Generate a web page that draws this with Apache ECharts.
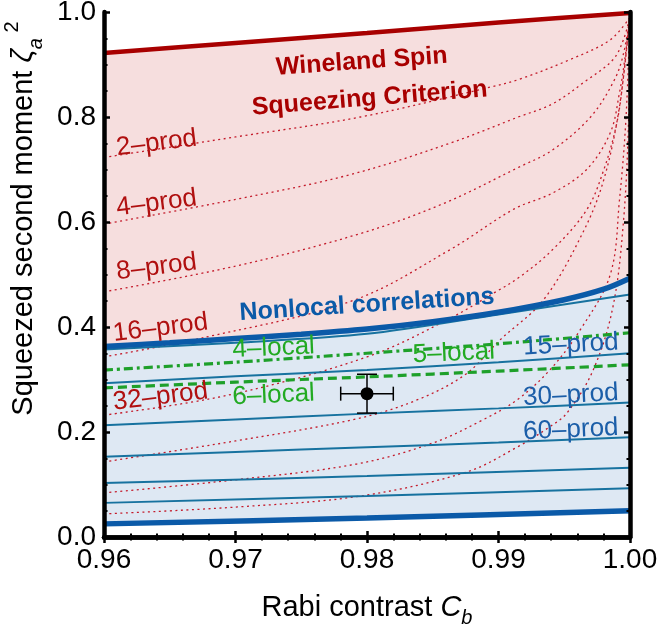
<!DOCTYPE html>
<html>
<head>
<meta charset="utf-8">
<script src="https://cdn.jsdelivr.net/npm/echarts@6/dist/echarts.min.js"></script>
<style>
  html, body { margin: 0; padding: 0; background: #fff; }
  #chart { width: 659px; height: 629px; }
</style>
</head>
<body>
<div id="chart"></div>
<script>
// points are [C_b, zeta_a^2]
var wineland = [[0.96, 0.922], [0.97, 0.941], [0.98, 0.960], [0.99, 0.980], [1.0, 0.998]];
var nonlocal = [[0.96, 0.363], [0.965, 0.370], [0.97, 0.378], [0.975, 0.386], [0.98, 0.396],
                [0.985, 0.410], [0.99, 0.428], [0.995, 0.452], [0.998, 0.472], [1.0, 0.493]];
var floorLine = [[0.96, 0.025], [0.98, 0.036], [1.0, 0.050]];

// solid bounds (large k)
var blueTop = [[0.96, 0.357], [0.97, 0.370], [0.98, 0.387], [0.99, 0.424], [1.0, 0.462]];
var blue15 = [[0.96, 0.293], [0.97, 0.306], [0.98, 0.318], [0.99, 0.333], [1.0, 0.350]];
var blue30 = [[0.96, 0.213], [0.97, 0.224], [0.98, 0.235], [0.99, 0.245], [1.0, 0.256]];
var blue60 = [[0.96, 0.153], [0.97, 0.162], [0.98, 0.171], [0.99, 0.180], [1.0, 0.190]];
var blue120 = [[0.96, 0.103], [0.98, 0.116], [1.0, 0.132]];
var blue240 = [[0.96, 0.065], [0.98, 0.078], [1.0, 0.093]];

// dotted k-producible bounds
var red2 = [[0.96, 0.723], [0.97, 0.762], [0.9795, 0.800], [0.9894, 0.857], [0.9916, 0.872],
            [0.9954, 0.909], [0.9985, 0.947], [1.0, 0.990]];
var red4 = [[0.96, 0.596], [0.97, 0.643], [0.9787, 0.690], [0.9863, 0.750], [0.9915, 0.800],
            [0.9941, 0.825], [0.9966, 0.868], [0.9987, 0.909], [0.9995, 0.947], [1.0, 0.992]];
var red8 = [[0.96, 0.467], [0.97, 0.516], [0.9795, 0.578], [0.9858, 0.635], [0.9916, 0.705],
            [0.9941, 0.737], [0.9970, 0.800], [0.9988, 0.870], [0.9995, 0.920], [1.0, 0.993]];
var red16 = [[0.96, 0.343], [0.9678, 0.381], [0.979, 0.451], [0.9863, 0.547], [0.9912, 0.625],
             [0.9941, 0.655], [0.9967, 0.700], [0.9985, 0.770], [0.9992, 0.846], [0.9996, 0.909], [1.0, 0.994]];
var red32 = [[0.96, 0.232], [0.9694, 0.270], [0.98, 0.343], [0.9862, 0.415], [0.990, 0.470],
             [0.9916, 0.495], [0.9941, 0.547], [0.9967, 0.623], [0.9980, 0.699], [0.9990, 0.789],
             [0.9995, 0.876], [1.0, 0.995]];
var red64 = [[0.96, 0.143], [0.97, 0.183], [0.9792, 0.225], [0.9838, 0.261], [0.9875, 0.310],
             [0.9901, 0.375], [0.9934, 0.451], [0.9964, 0.579], [0.9980, 0.680], [0.9992, 0.820], [1.0, 0.996]];
var red128 = [[0.96, 0.084], [0.97, 0.109], [0.9792, 0.139], [0.985, 0.179], [0.9888, 0.223],
              [0.9914, 0.261], [0.9939, 0.318], [0.9962, 0.394], [0.9985, 0.500], [0.9992, 0.642],
              [0.9997, 0.800], [1.0, 0.997]];
var red256 = [[0.96, 0.044], [0.97, 0.057], [0.9795, 0.078], [0.9876, 0.124], [0.9914, 0.171],
              [0.9939, 0.210], [0.9952, 0.236], [0.9972, 0.318], [0.9987, 0.438], [0.9995, 0.600],
              [0.9999, 0.800], [1.0, 0.998]];

var local4 = [[0.96, 0.318], [0.97, 0.333], [0.98, 0.350], [0.99, 0.368], [1.0, 0.389]];
var local6 = [[0.96, 0.284], [0.97, 0.295], [0.98, 0.305], [0.99, 0.316], [1.0, 0.328]];

// measured point: C_b, zeta^2, dC, dzeta
var measured = [[0.98, 0.273, 0.002, 0.037]];

var xTicks = { min: 0.96, max: 1.0, step: 0.01 };
var yTicks = { min: 0, max: 1, step: 0.2 };

var RED = '#a80000', DOT = '#c41a2a', BLUE = '#0b5aa8', THIN = '#17729f', GREEN = '#1ea02a';
var FONT = '"Liberation Sans", Arial, sans-serif';

var notes = [
  { text: 'Wineland Spin', at: [0.9796, 0.905], rot: 4, color: RED, bold: true },
  { text: 'Squeezing Criterion', at: [0.9802, 0.835], rot: 4.5, color: RED, bold: true },
  { text: 'Nonlocal correlations', at: [0.9800, 0.442], rot: 3.7, color: BLUE, bold: true },
  { text: '2–prod', at: [0.9640, 0.750], rot: 7, color: '#b01010' },
  { text: '4–prod', at: [0.9640, 0.636], rot: 7, color: '#b01010' },
  { text: '8–prod', at: [0.9640, 0.514], rot: 7, color: '#b01010' },
  { text: '16–prod', at: [0.9643, 0.398], rot: 7, color: '#b01010' },
  { text: '32–prod', at: [0.9643, 0.267], rot: 7, color: '#b01010' },
  { text: '4–local', at: [0.9729, 0.360], rot: 2.5, color: '#22aa22' },
  { text: '5–local', at: [0.9866, 0.350], rot: 2.5, color: '#22aa22' },
  { text: '6–local', at: [0.9729, 0.270], rot: 2.5, color: '#22aa22' },
  { text: '15–prod', at: [0.9955, 0.366], rot: 3, color: '#1b5ea8' },
  { text: '30–prod', at: [0.9955, 0.270], rot: 3, color: '#1b5ea8' },
  { text: '60–prod', at: [0.9955, 0.204], rot: 2.5, color: '#1b5ea8' }
];

function fill(data, color, z, smooth) {
  return { type: 'line', data: data, symbol: 'none', smooth: smooth || false,
    lineStyle: { width: 0 }, areaStyle: { color: color, opacity: 1, origin: 'start' }, z: z, silent: true };
}
function curve(data, color, width, dash, z, smooth) {
  return { type: 'line', data: data, symbol: 'none', smooth: smooth || false,
    lineStyle: { color: color, width: width, type: dash || 'solid', cap: 'butt' }, z: z, silent: true };
}

var chart = echarts.init(document.getElementById('chart'));

var frameAxis = {
  z: 20,
  axisLine: { show: true, lineStyle: { color: '#000', width: 4.5 } },
  axisTick: { show: true, inside: true, length: 6, lineStyle: { color: '#000', width: 2.5 } },
  splitLine: { show: false }
};

chart.setOption({
  animation: false,
  grid: { left: 104, right: 29, top: 12, bottom: 92, outerBoundsMode: 'none', containLabel: false },
  xAxis: [
    Object.assign({
      type: 'value', min: xTicks.min, max: xTicks.max, interval: xTicks.step,
      minorTick: { show: true, splitNumber: 5, length: 3.5, lineStyle: { color: '#000', width: 2 } },
      axisLabel: { color: '#000', fontSize: 28, fontFamily: FONT, margin: 9,
        formatter: function (v) { return v.toFixed(2); } },
      name: '{n|Rabi contrast }{i|C}{s|b}', nameLocation: 'middle', nameGap: 51,
      nameTextStyle: { rich: {
        n: { fontSize: 29, fontFamily: FONT, color: '#000', lineHeight: 40 },
        i: { fontSize: 29, fontFamily: FONT, color: '#000', fontStyle: 'italic', lineHeight: 40 },
        s: { fontSize: 20, fontFamily: FONT, color: '#000', fontStyle: 'italic', verticalAlign: 'bottom', lineHeight: 40 }
      } }
    }, frameAxis),
    Object.assign({
      type: 'value', position: 'top', min: xTicks.min, max: xTicks.max, interval: xTicks.step,
      minorTick: { show: true, splitNumber: 5, length: 3.5, lineStyle: { color: '#000', width: 2 } },
      axisLabel: { show: false }
    }, frameAxis)
  ],
  yAxis: [
    Object.assign({
      type: 'value', min: yTicks.min, max: yTicks.max, interval: yTicks.step,
      minorTick: { show: true, splitNumber: 4, length: 3.5, lineStyle: { color: '#000', width: 2 } },
      axisLabel: { color: '#000', fontSize: 28, fontFamily: FONT, margin: 8,
        formatter: function (v) { return v.toFixed(1); } },
      name: '{n|Squeezed second moment }{z|ζ}{s|a}{p| 2}', nameLocation: 'middle', nameRotate: 90, nameGap: 56,
      nameTextStyle: { padding: [0, 0, 0, 112], rich: {
        n: { fontSize: 29, fontFamily: FONT, color: '#000', lineHeight: 44 },
        z: { fontSize: 29, fontFamily: FONT, color: '#000', fontStyle: 'italic', lineHeight: 44 },
        s: { fontSize: 20, fontFamily: FONT, color: '#000', fontStyle: 'italic', verticalAlign: 'bottom', lineHeight: 44 },
        p: { fontSize: 20, fontFamily: FONT, color: '#000', verticalAlign: 'top', lineHeight: 44 }
      } }
    }, frameAxis),
    Object.assign({
      type: 'value', position: 'right', min: yTicks.min, max: yTicks.max, interval: yTicks.step,
      minorTick: { show: true, splitNumber: 4, length: 3.5, lineStyle: { color: '#000', width: 2 } },
      axisLabel: { show: false }
    }, frameAxis)
  ],
  series: [
    fill(wineland, '#f6dede', 1, 0.3),
    fill(nonlocal, '#dee8f3', 2, 0.3),
    fill(floorLine, '#ffffff', 3),

    curve(red2, DOT, 1.3, [2, 3.5], 5, 0.35),
    curve(red4, DOT, 1.3, [2, 3.5], 5, 0.35),
    curve(red8, DOT, 1.3, [2, 3.5], 5, 0.35),
    curve(red16, DOT, 1.3, [2, 3.5], 5, 0.35),
    curve(red32, DOT, 1.3, [2, 3.5], 5, 0.35),
    curve(red64, DOT, 1.3, [2, 3.5], 5, 0.35),
    curve(red128, DOT, 1.3, [2, 3.5], 5, 0.35),
    curve(red256, DOT, 1.3, [2, 3.5], 5, 0.35),

    curve(blueTop, THIN, 2, null, 6, 0.3),
    curve(blue15, THIN, 2, null, 6, 0.3),
    curve(blue30, THIN, 2, null, 6, 0.3),
    curve(blue60, THIN, 2, null, 6, 0.3),
    curve(blue120, THIN, 2, null, 6, 0.3),
    curve(blue240, THIN, 2, null, 6, 0.3),

    curve(local4, GREEN, 3.2, [9, 4, 3, 4], 7, 0.3),
    curve(local6, GREEN, 3.2, [9, 5], 7, 0.3),

    curve(wineland, RED, 4.5, null, 8, 0.3),
    curve(nonlocal, BLUE, 5.5, null, 8, 0.3),
    curve(floorLine, BLUE, 5.5, null, 8, 0.3),

    {
      type: 'custom', z: 9, silent: true, clip: false,
      data: notes.map(function (n) { return n.at; }),
      renderItem: function (params, api) {
        var n = notes[params.dataIndex];
        var p = api.coord([api.value(0), api.value(1)]);
        return {
          type: 'text', x: p[0], y: p[1], rotation: n.rot * Math.PI / 180,
          style: { text: n.text, fill: n.color, fontSize: n.bold ? 25 : 26,
            fontWeight: n.bold ? 'bold' : 'normal', fontFamily: FONT,
            align: 'center', verticalAlign: 'middle' }
        };
      }
    },
    {
      type: 'custom', z: 10, silent: true,
      data: measured,
      renderItem: function (params, api) {
        var x = api.value(0), y = api.value(1), dx = api.value(2), dy = api.value(3);
        var c = api.coord([x, y]);
        var l = api.coord([x - dx, y]), r = api.coord([x + dx, y]);
        var t = api.coord([x, y + dy]), b = api.coord([x, y - dy]);
        var ls = { stroke: '#000', lineWidth: 1.5 };
        return {
          type: 'group', children: [
            { type: 'line', shape: { x1: l[0], y1: c[1], x2: r[0], y2: c[1] }, style: ls },
            { type: 'line', shape: { x1: c[0], y1: t[1], x2: c[0], y2: b[1] }, style: ls },
            { type: 'line', shape: { x1: l[0], y1: c[1] - 7, x2: l[0], y2: c[1] + 7 }, style: ls },
            { type: 'line', shape: { x1: r[0], y1: c[1] - 7, x2: r[0], y2: c[1] + 7 }, style: ls },
            { type: 'line', shape: { x1: c[0] - 10, y1: t[1], x2: c[0] + 10, y2: t[1] }, style: ls },
            { type: 'line', shape: { x1: c[0] - 10, y1: b[1], x2: c[0] + 10, y2: b[1] }, style: ls },
            { type: 'circle', shape: { cx: c[0], cy: c[1], r: 6.5 }, style: { fill: '#000' } }
          ]
        };
      }
    }
  ]
});
</script>
</body>
</html>
